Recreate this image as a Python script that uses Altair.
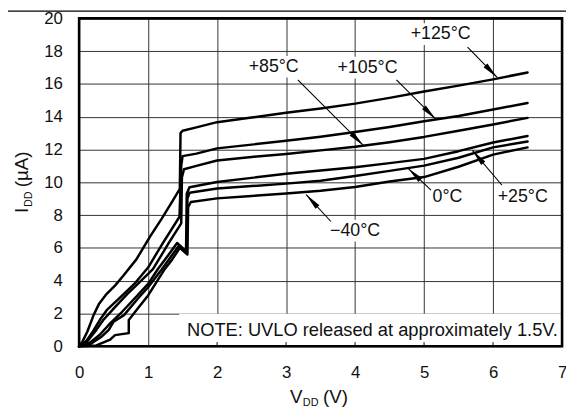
import math
import altair as alt
import pandas as pd

# ---------------- data ----------------
V_125 = [0, 0.05, 0.12, 0.21, 0.29, 0.40, 0.52, 0.64, 0.83, 1.03, 1.20, 1.36, 1.46, 1.47, 1.50, 1.70, 2.0, 2.5, 3.0, 3.5, 4.0, 4.5, 5.0, 5.5, 6.0, 6.5]
I_125 = [0, 0.30, 0.90, 1.90, 2.60, 3.20, 3.70, 4.30, 5.30, 6.70, 7.80, 8.90, 9.60, 13.0, 13.15, 13.35, 13.67, 13.95, 14.24, 14.50, 14.80, 15.15, 15.54, 15.90, 16.28, 16.70]

V_105 = [0, 0.10, 0.20, 0.30, 0.40, 0.60, 0.80, 1.00, 1.20, 1.455, 1.48, 1.50, 1.70, 2.0, 2.5, 3.0, 3.5, 4.0, 4.5, 5.0, 5.5, 6.0, 6.5]
I_105 = [0, 0.30, 0.90, 1.60, 2.20, 3.00, 3.80, 4.80, 6.20, 7.90, 11.0, 11.60, 11.75, 12.07, 12.30, 12.53, 12.78, 13.07, 13.38, 13.72, 14.05, 14.44, 14.84]

V_85 = [0, 0.12, 0.25, 0.35, 0.50, 0.70, 0.90, 1.07, 1.30, 1.48, 1.49, 1.52, 1.70, 2.0, 2.5, 3.0, 3.5, 4.0, 4.5, 5.0, 5.5, 6.0, 6.5]
I_85 = [0, 0.30, 1.00, 1.60, 2.30, 3.20, 4.00, 4.70, 6.30, 7.50, 10.3, 10.80, 11.00, 11.33, 11.55, 11.73, 11.95, 12.17, 12.45, 12.77, 13.15, 13.53, 13.93]

V_25 = [0, 0.15, 0.30, 0.45, 0.60, 0.80, 1.00, 1.14, 1.30, 1.42, 1.55, 1.56, 1.60, 2.0, 2.5, 3.0, 3.5, 4.0, 4.5, 5.0, 5.5, 6.0, 6.5]
I_25 = [0, 0.20, 0.70, 1.40, 2.00, 2.90, 3.80, 4.70, 5.60, 6.30, 5.80, 9.30, 9.70, 10.02, 10.27, 10.52, 10.72, 10.92, 11.17, 11.43, 11.90, 12.43, 12.83]

V_0 = [0, 0.17, 0.33, 0.43, 0.50, 0.65, 0.85, 1.00, 1.20, 1.32, 1.44, 1.56, 1.57, 1.60, 2.0, 2.5, 3.0, 3.5, 4.0, 4.5, 5.0, 5.5, 6.0, 6.5]
I_0 = [0, 0.15, 0.60, 1.00, 1.50, 1.90, 2.90, 3.60, 4.70, 5.40, 6.10, 5.70, 9.00, 9.36, 9.62, 9.77, 9.92, 10.10, 10.38, 10.70, 11.02, 11.50, 12.13, 12.49]

V_m40 = [0, 0.25, 0.45, 0.52, 0.72, 0.72, 0.85, 1.00, 1.24, 1.35, 1.46, 1.57, 1.58, 1.62, 2.0, 2.5, 3.0, 3.5, 4.0, 4.5, 5.0, 5.5, 6.0, 6.5]
I_m40 = [0, 0.05, 0.40, 0.68, 0.80, 1.60, 2.30, 3.10, 4.70, 5.30, 6.00, 5.60, 8.50, 8.80, 9.02, 9.17, 9.32, 9.48, 9.72, 10.05, 10.32, 10.95, 11.69, 12.13]

labels = ["+125°C", "+105°C", "+85°C", "0°C", "+25°C", "\u221240°C"]
label_v = [5.24, 4.18, 2.82, 5.34, 6.43, 4.00]
label_i = [19.04, 16.99, 17.05, 9.10, 9.10, 7.05]
label_w = [62, 62, 50, 30, 52, 50]      # label widths in px (for white boxes)
arrow_sv = [5.63, 4.60, 3.17, 5.10, 6.13, 3.65]
arrow_si = [18.25, 16.25, 16.25, 9.52, 9.82, 7.61]
arrow_tv = [6.06, 5.17, 4.12, 4.77, 5.70, 3.29]
arrow_ti = [16.40, 13.85, 12.25, 10.85, 11.95, 9.25]

x_ticks = [0, 1, 2, 3, 4, 5, 6, 7]
y_ticks = [0, 2, 4, 6, 8, 10, 12, 14, 16, 18, 20]
note = "NOTE: UVLO released at approximately 1.5V."

# ---------------- layout ----------------
W, H = 489, 332
PXV, PXI = W / 7.0, H / 20.0
FONT = "Liberation Sans"
HEAD_HALF = 8.5

series = [("+125", V_125, I_125), ("+105", V_105, I_105), ("+85", V_85, I_85),
          ("+25", V_25, I_25), ("0", V_0, I_0), ("-40", V_m40, I_m40)]
rows = []
for name, vs, is_ in series:
    for k, (v, i) in enumerate(zip(vs, is_)):
        rows.append({"s": name, "k": k, "V": v, "I": i})
curves_df = pd.DataFrame(rows)

arrow_rows, head_rows, box_rows = [], [], []
for j in range(len(labels)):
    sv, si, tv, ti = arrow_sv[j], arrow_si[j], arrow_tv[j], arrow_ti[j]
    arrow_rows.append({"a": j, "k": 0, "V": sv, "I": si})
    arrow_rows.append({"a": j, "k": 1, "V": tv, "I": ti})
    dx = (tv - sv) * PXV
    dy = -(ti - si) * PXI
    L = math.hypot(dx, dy)
    ux, uy = dx / L, dy / L
    ang = math.degrees(math.atan2(ux, -uy)) % 360
    head_rows.append({"V": tv - HEAD_HALF * ux / PXV, "I": ti + HEAD_HALF * uy / PXI, "ang": ang})
    hw = (label_w[j] / 2 + 3) / PXV
    hh = 11 / PXI
    box_rows.append({"x": label_v[j] - hw, "x2": label_v[j] + hw,
                     "y": label_i[j] - hh, "y2": label_i[j] + hh})
arrows_df = pd.DataFrame(arrow_rows)
heads_df = pd.DataFrame(head_rows)
boxes_df = pd.DataFrame(box_rows)
labels_df = pd.DataFrame({"t": labels, "V": label_v, "I": label_i})

xscale = alt.Scale(domain=[0, 7], nice=False, zero=False)
yscale = alt.Scale(domain=[0, 20], nice=False, zero=False)

xaxis = alt.Axis(values=x_ticks, format="d", grid=True, gridColor="#333333", gridWidth=1,
                 domain=False, ticks=False, tickSize=0, labelPadding=19,
                 labelFontSize=17, labelFont=FONT, labelColor="#111111",
                 title=None, labelFlush=False, labelOverlap=False)
yaxis = alt.Axis(values=y_ticks, format="d", grid=True, gridColor="#333333", gridWidth=1,
                 domain=False, ticks=False, tickSize=0, labelPadding=17,
                 labelFontSize=17, labelFont=FONT, labelColor="#111111",
                 title=None, labelFlush=False, labelOverlap=False)


def X(f):
    return alt.X(f, scale=xscale, axis=xaxis)


def Y(f):
    return alt.Y(f, scale=yscale, axis=yaxis)


curves = alt.Chart(curves_df).mark_line(
    color="black", strokeWidth=2.5, strokeJoin="round", strokeCap="round"
).encode(x=X("V:Q"), y=Y("I:Q"), detail="s:N", order="k:Q")

note_box = alt.Chart(pd.DataFrame({"x": [1.45], "x2": [7.0], "y": [0.0], "y2": [1.98]})).mark_rect(
    color="white"
).encode(x=X("x:Q"), x2="x2:Q", y=Y("y:Q"), y2="y2:Q")

label_boxes = alt.Chart(boxes_df).mark_rect(color="white").encode(
    x=X("x:Q"), x2="x2:Q", y=Y("y:Q"), y2="y2:Q")

inner_ticks = alt.Chart(pd.DataFrame({"V": x_ticks[2:7], "y0": [0.0] * 5, "y1": [0.25] * 5})).mark_rule(
    color="black", strokeWidth=1
).encode(x=X("V:Q"), y=Y("y0:Q"), y2="y1:Q")

shafts = alt.Chart(arrows_df).mark_line(color="black", strokeWidth=1.1).encode(
    x=X("V:Q"), y=Y("I:Q"), detail="a:N", order="k:Q")

heads = alt.Chart(heads_df).mark_point(
    shape="M0,-1L0.32,1L-0.32,1Z", size=(2 * HEAD_HALF) ** 2, filled=True, color="black",
    fill="black", opacity=1, fillOpacity=1, strokeWidth=0
).encode(x=X("V:Q"), y=Y("I:Q"), angle=alt.Angle("ang:Q", scale=None))

label_text = alt.Chart(labels_df).mark_text(
    font=FONT, fontSize=18, color="#111111", align="center", baseline="middle"
).encode(x=X("V:Q"), y=Y("I:Q"), text="t:N")

note_text = alt.Chart(pd.DataFrame({"V": [6.94], "I": [1.0], "t": [note]})).mark_text(
    font=FONT, fontSize=18.5, color="#111111", align="right", baseline="middle"
).encode(x=X("V:Q"), y=Y("I:Q"), text="t:N")

frame = alt.Chart(pd.DataFrame({"x": [0.0], "x2": [7.0], "y": [0.0], "y2": [20.0]})).mark_rect(
    fill=None, filled=False, stroke="black", strokeWidth=2.6
).encode(x=X("x:Q"), x2="x2:Q", y=Y("y:Q"), y2="y2:Q")


# axis titles with subscripts (pixel placed)
def ptext(t, x, y, size, angle=0, align="left"):
    return alt.Chart(pd.DataFrame({"t": [t]})).mark_text(
        font=FONT, fontSize=size, color="#111111", align=align,
        baseline="alphabetic", angle=angle
    ).encode(x=alt.value(x), y=alt.value(y), text="t:N")


xt1 = ptext("V", 213.5, 389, 19)
xt2 = ptext("DD", 226.5, 392, 11)
xt3 = ptext("(V)", 247, 389, 19)
yt1 = ptext("I", -52, 197, 19, angle=270)
yt2 = ptext("DD", -48, 191, 11, angle=270)
yt3 = ptext("(\u00b5A)", -52, 171, 19, angle=270)

top_rule = alt.Chart(pd.DataFrame({"a": [0]})).mark_rule(color="black", strokeWidth=1.2).encode(
    x=alt.value(-90), x2=alt.value(W + 10), y=alt.value(-7.4))

chart = alt.layer(
    note_box, label_boxes, curves, shafts, heads, label_text, note_text,
    inner_ticks, frame, xt1, xt2, xt3, yt1, yt2, yt3, top_rule
).properties(
    width=W, height=H,
    autosize=alt.AutoSizeParams(type="none"),
    padding={"left": 72, "top": 8, "right": 4, "bottom": 60},
    background="white",
).configure_view(stroke=None).configure(font=FONT)

chart.save("out.html", embed_options={"renderer": "svg", "actions": False})
